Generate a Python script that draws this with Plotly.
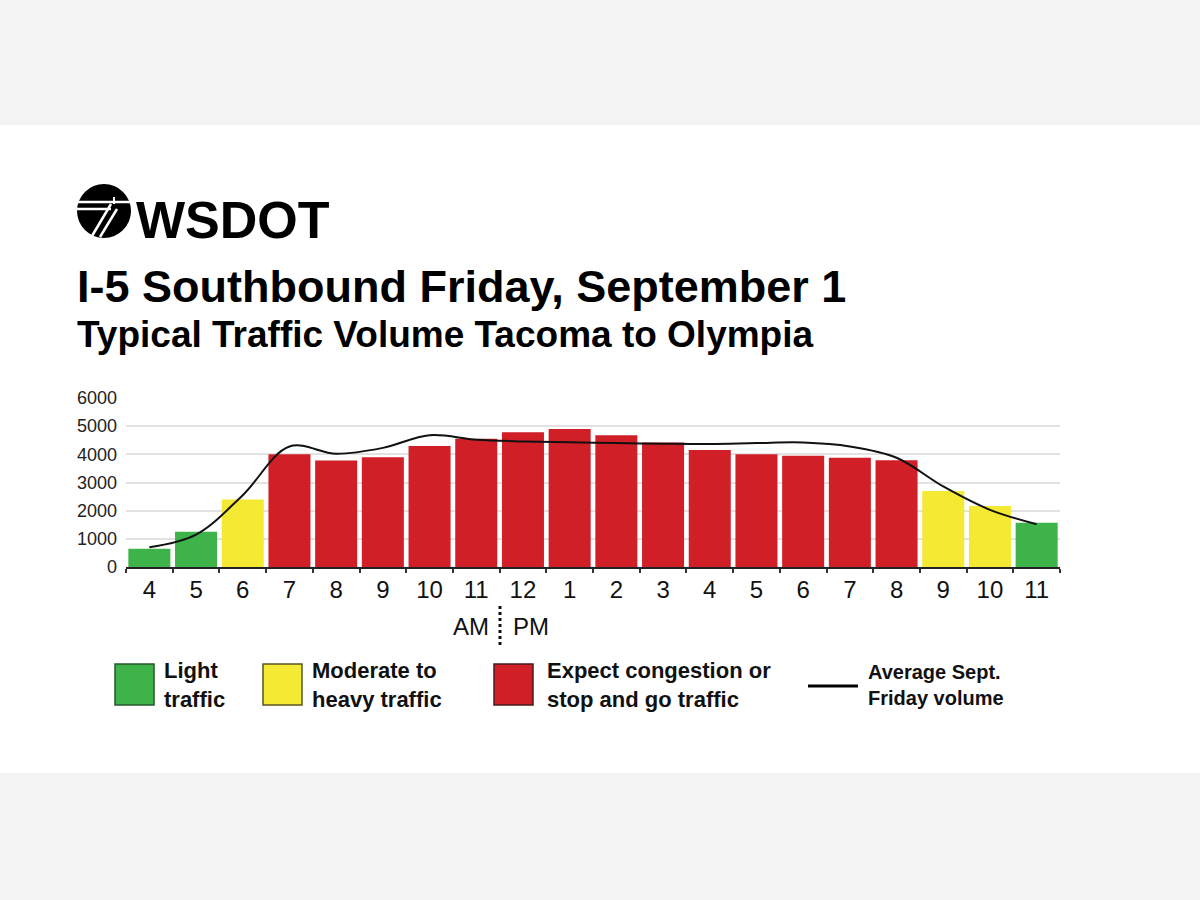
import plotly.graph_objects as go

# ---------------- data ----------------
hours = ["4 AM", "5 AM", "6 AM", "7 AM", "8 AM", "9 AM", "10 AM", "11 AM",
         "12 PM", "1 PM", "2 PM", "3 PM", "4 PM", "5 PM", "6 PM", "7 PM",
         "8 PM", "9 PM", "10 PM", "11 PM"]
tick_labels = ["4", "5", "6", "7", "8", "9", "10", "11",
               "12", "1", "2", "3", "4", "5", "6", "7", "8", "9", "10", "11"]
volume = [650, 1250, 2400, 4000, 3780, 3900, 4300, 4550,
          4780, 4900, 4680, 4420, 4150, 4000, 3950, 3880, 3790, 2700, 2170, 1570]
average = [700, 1150, 2550, 4280, 4020, 4230, 4680, 4520,
           4460, 4430, 4400, 4380, 4370, 4400, 4420, 4280, 3880, 2860, 2030, 1520]
level = ["light", "light", "moderate", "heavy", "heavy", "heavy", "heavy", "heavy",
         "heavy", "heavy", "heavy", "heavy", "heavy", "heavy", "heavy", "heavy",
         "heavy", "moderate", "moderate", "light"]
y_ticks = [0, 1000, 2000, 3000, 4000, 5000, 6000]

COLORS = {"light": "#3db34a", "moderate": "#f4ea33", "heavy": "#d01f27"}
BORDERS = {"light": "#24582c", "moderate": "#5a5520", "heavy": "#4a1a1c"}
FONT = "Liberation Sans, Arial, sans-serif"

# plot area in pixels
L, T, W, H = 126, 398, 934, 169
FW, FH = 1200, 900


def px(xp):
    return (xp - L) / W


def py(yp):
    return (T + H - yp) / H


fig = go.Figure()
fig.add_trace(go.Bar(
    x=hours, y=volume,
    marker=dict(color=[COLORS[l] for l in level], line=dict(width=0)),
    showlegend=False, hoverinfo="x+y",
))
fig.add_trace(go.Scatter(
    x=hours, y=average, mode="lines",
    line=dict(color="#111111", width=2, shape="spline", smoothing=1.0),
    showlegend=False,
))

shapes = []
annotations = []

# background bands
shapes.append(dict(type="rect", xref="paper", yref="paper",
                   x0=px(0), x1=px(FW), y0=py(773), y1=py(125),
                   fillcolor="white", line=dict(width=0), layer="below"))

# logo circle
cx, cy, r = 104, 211, 27
shapes.append(dict(type="circle", xref="paper", yref="paper",
                   x0=px(cx - r), x1=px(cx + r), y0=py(cy + r), y1=py(cy - r),
                   fillcolor="black", line=dict(width=0)))
for (x0, y0, x1, y1, w) in [(78, 202, 130, 202, 2.5), (77, 209, 111, 209, 2.5),
                            (111, 204, 92, 236, 2.5), (117, 209, 100, 237, 2.5),
                            (114, 197, 114, 204, 2.0)]:
    shapes.append(dict(type="line", xref="paper", yref="paper",
                       x0=px(x0), y0=py(y0), x1=px(x1), y1=py(y1),
                       line=dict(color="white", width=w)))
annotations.append(dict(text="<b>WSDOT</b>", xref="paper", yref="paper",
                        x=px(134), y=py(220), xanchor="left", yanchor="middle",
                        showarrow=False, font=dict(family=FONT, size=52, color="black")))

# titles
annotations.append(dict(text="<b>I-5 Southbound Friday, September 1</b>", xref="paper", yref="paper",
                        x=px(75), y=py(286), xanchor="left", yanchor="middle",
                        showarrow=False, font=dict(family=FONT, size=45, color="black")))
annotations.append(dict(text="<b>Typical Traffic Volume Tacoma to Olympia</b>", xref="paper", yref="paper",
                        x=px(75), y=py(334), xanchor="left", yanchor="middle",
                        showarrow=False, font=dict(family=FONT, size=37, color="black")))

# AM / PM
annotations.append(dict(text="AM", xref="paper", yref="paper", x=px(491), y=py(626),
                        xanchor="right", yanchor="middle", showarrow=False,
                        font=dict(family=FONT, size=24, color="#111")))
annotations.append(dict(text="PM", xref="paper", yref="paper", x=px(511), y=py(626),
                        xanchor="left", yanchor="middle", showarrow=False,
                        font=dict(family=FONT, size=24, color="#111")))
shapes.append(dict(type="line", xref="paper", yref="paper",
                   x0=px(500), x1=px(500), y0=py(606), y1=py(646),
                   line=dict(color="#111", width=3, dash="dot")))

# legend
legend_items = [("light", 115, 162, "Light<br>traffic"),
                ("moderate", 263, 310, "Moderate to<br>heavy traffic"),
                ("heavy", 494, 545, "Expect congestion or<br>stop and go traffic")]
for key, sx, tx, label in legend_items:
    shapes.append(dict(type="rect", xref="paper", yref="paper",
                       x0=px(sx), x1=px(sx + 39), y0=py(705), y1=py(664),
                       fillcolor=COLORS[key], line=dict(color=BORDERS[key], width=1.5)))
    annotations.append(dict(text="<b>" + label + "</b>", xref="paper", yref="paper",
                            x=px(tx), y=py(685), xanchor="left", yanchor="middle",
                            align="left", showarrow=False,
                            font=dict(family=FONT, size=22, color="#111")))
shapes.append(dict(type="line", xref="paper", yref="paper",
                   x0=px(808), x1=px(858), y0=py(686), y1=py(686),
                   line=dict(color="black", width=3)))
annotations.append(dict(text="<b>Average Sept.<br>Friday volume</b>", xref="paper", yref="paper",
                        x=px(866), y=py(685), xanchor="left", yanchor="middle",
                        align="left", showarrow=False,
                        font=dict(family=FONT, size=20, color="#111")))

fig.update_layout(
    width=FW, height=FH,
    margin=dict(l=L, r=FW - L - W, t=T, b=FH - T - H, pad=0),
    paper_bgcolor="#f4f4f4", plot_bgcolor="rgba(0,0,0,0)",
    bargap=0.1,
    shapes=shapes, annotations=annotations,
    showlegend=False,
    font=dict(family=FONT, color="#111"),
)
fig.update_xaxes(
    type="category", tickmode="array", tickvals=hours, ticktext=tick_labels,
    tickson="boundaries", ticks="outside", ticklen=4, tickwidth=2, tickcolor="#333",
    showline=True, linecolor="#222", linewidth=2, showgrid=False,
    tickfont=dict(family=FONT, size=24, color="#111"),
)
fig.update_yaxes(
    range=[0, 6000], tickmode="array", tickvals=y_ticks,
    showgrid=True, gridcolor="#e2e2e2", gridwidth=1.5, zeroline=False,
    showline=False, ticks="", ticklabelstandoff=8,
    tickfont=dict(family=FONT, size=18, color="#222"),
)

fig.write_html("out.html")
